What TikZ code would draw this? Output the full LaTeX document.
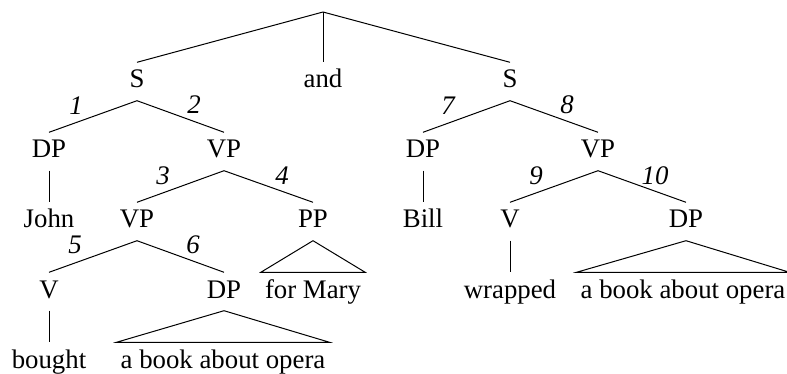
\documentclass[tikz,border=0pt]{standalone}
\usepackage{fontspec}
\setmainfont{Liberation Serif}
\begin{document}
\begin{tikzpicture}[x=1pt,y=-1pt,
  lab/.style={anchor=base,inner xsep=4pt,inner ysep=8.5pt,text height=17pt,text depth=4pt,font=\fontsize{26.8}{31}\selectfont},
  num/.style={inner sep=0pt,font=\fontsize{26.8}{31}\selectfont\itshape},
  edge/.style={draw=black,line width=1pt}]
\useasboundingbox (0,0) rectangle (787,374);
\coordinate (root) at (323,12);
% level 1
\node[lab] (S1) at (137,88) {S};
\node[lab] (and) at (323,88) {and};
\node[lab] (S2) at (510,88) {S};
% level 2
\node[lab] (DP1) at (49,158) {DP};
\node[lab] (VP1) at (224,158) {VP};
\node[lab] (DP2) at (423,158) {DP};
\node[lab] (VP2) at (598,158) {VP};
% level 3
\node[lab] (John) at (49,228) {John};
\node[lab] (VP3) at (137,228) {VP};
\node[lab] (PP) at (313,228) {PP};
\node[lab] (Bill) at (423,228) {Bill};
\node[lab] (V2) at (510,228) {V};
\node[lab] (DP4) at (686,228) {DP};
% level 4
\node[lab] (V1) at (49,298) {V};
\node[lab] (DP3) at (224,298) {DP};
\node[lab] (forMary) at (313,298) {for Mary};
\node[lab] (wrapped) at (510,298) {wrapped};
\node[lab] (book2) at (683,298) {a book about opera};
% level 5
\node[lab] (bought) at (49,368) {bought};
\node[lab] (book1) at (223,368) {a book about opera};
% numbers
\node[num] (n1) at (76,106) {1};
\node[num] (n2) at (194,105) {2};
\node[num] (n3) at (163,176) {3};
\node[num] (n4) at (282,176) {4};
\node[num] (n5) at (75,245) {5};
\node[num] (n6) at (193,245) {6};
\node[num] (n7) at (448,106) {7};
\node[num] (n8) at (567,105) {8};
\node[num] (n9) at (536,176) {9};
\node[num] (n10) at (655,176) {10};
% edges
\draw[edge] (root) -- (S1.north);
\draw[edge] (root) -- (and.north);
\draw[edge] (root) -- (S2.north);
\draw[edge] (S1.south) -- (DP1.north);
\draw[edge] (S1.south) -- (VP1.north);
\draw[edge] (S2.south) -- (DP2.north);
\draw[edge] (S2.south) -- (VP2.north);
\draw[edge] (DP1.south) -- (John.north);
\draw[edge] (DP2.south) -- (Bill.north);
\draw[edge] (VP1.south) -- (VP3.north);
\draw[edge] (VP1.south) -- (PP.north);
\draw[edge] (VP2.south) -- (V2.north);
\draw[edge] (VP2.south) -- (DP4.north);
\draw[edge] (VP3.south) -- (V1.north);
\draw[edge] (VP3.south) -- (DP3.north);
\draw[edge] (V2.south) -- (wrapped.north);
\draw[edge] (V1.south) -- (bought.north);
\draw[edge] (PP.south) -- (forMary.north west) -- (forMary.north east) -- cycle;
\draw[edge] (DP3.south) -- (book1.north west) -- (book1.north east) -- cycle;
\draw[edge] (DP4.south) -- (book2.north west) -- (book2.north east) -- cycle;
\end{tikzpicture}
\end{document}
